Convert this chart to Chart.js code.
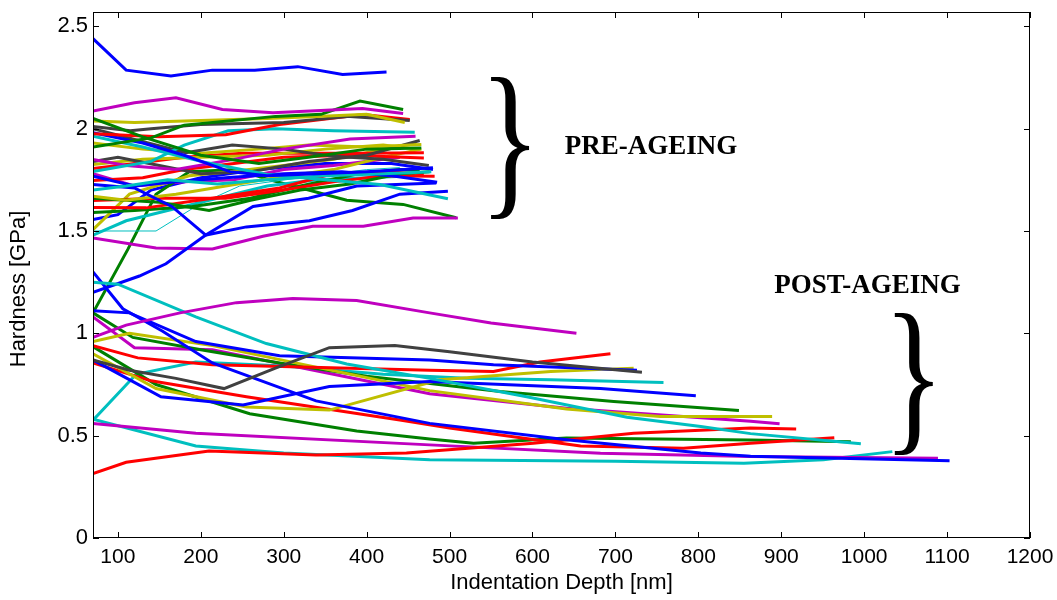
<!DOCTYPE html>
<html>
<head>
<meta charset="utf-8">
<script src="https://cdn.jsdelivr.net/npm/chart.js@4.4.1/dist/chart.umd.min.js"></script>
<style>
  html, body { margin: 0; padding: 0; background: #fff; }
  #wrap { width: 1057px; height: 600px; }
</style>
</head>
<body>
<div id="wrap"><canvas id="c" width="1057" height="600"></canvas></div>
<script>
// ---- tick values ----
const xTickValues = [100, 200, 300, 400, 500, 600, 700, 800, 900, 1000, 1100, 1200];
const yTickValues = [0, 0.5, 1, 1.5, 2, 2.5];

// ---- pre-ageing curves [depth nm, hardness GPa] ----
const preB1 = [[70,2.44],[110,2.286],[164,2.257],[214,2.286],[265,2.286],[317,2.303],[371,2.265],[424,2.277]];
const preM1 = [[70,2.086],[120,2.127],[170,2.151],[226,2.094],[287,2.078],[351,2.09],[395,2.099],[444,2.074]];
const preG1 = [[70,1.91],[140,1.955],[180,2.017],[290,2.06],[345,2.07],[392,2.135],[444,2.094]];
const preG2 = [[70,2.05],[130,1.96],[200,1.87],[270,1.83],[330,1.86],[400,1.9],[466,1.906]];
const preY1 = [[70,2.037],[120,2.03],[200,2.04],[280,2.05],[340,2.06],[400,2.07],[446,2.03]];
const preK1 = [[70,2.01],[115,1.99],[140,2.0],[200,2.02],[300,2.03],[380,2.06],[452,2.04]];
const preR1 = [[70,1.975],[150,1.96],[230,1.97],[295,2.02],[396,2.069],[452,2.045]];
const preB2 = [[70,1.98],[130,1.93],[180,1.87],[235,1.79],[280,1.77],[340,1.78],[400,1.79],[480,1.809]];
const preC1 = [[70,1.963],[130,1.91],[200,1.84],[280,1.776],[350,1.75],[416,1.727],[498,1.658]];
const preC2 = [[70,1.79],[140,1.84],[180,1.92],[233,1.99],[290,2.0],[360,1.99],[458,1.983]];
const preM2 = [[70,1.85],[110,1.82],[170,1.8],[240,1.85],[300,1.9],[380,1.95],[459,1.963]];
const preK2 = [[70,2.0],[182,1.882],[238,1.92],[300,1.9],[359,1.865],[420,1.85],[475,1.82]];
const preY2 = [[70,1.93],[130,1.9],[200,1.88],[270,1.9],[330,1.92],[400,1.91],[466,1.923]];
const preK3 = [[70,1.84],[100,1.86],[150,1.82],[200,1.78],[260,1.79],[330,1.84],[400,1.87],[464,1.942]];
const preY3 = [[70,1.825],[130,1.85],[200,1.86],[280,1.87],[350,1.9],[420,1.92],[460,1.9]];
const preR2 = [[70,1.805],[120,1.83],[180,1.86],[250,1.88],[320,1.88],[400,1.88],[469,1.882]];
const preC3 = [[70,1.70],[110,1.72],[160,1.75],[220,1.73],[280,1.75],[350,1.77],[420,1.78],[478,1.789]];
const preB3 = [[70,1.768],[120,1.72],[170,1.74],[230,1.76],[300,1.78],[370,1.79],[430,1.77],[485,1.738]];
const preR3 = [[70,1.747],[130,1.76],[180,1.8],[240,1.83],[300,1.86],[380,1.87],[469,1.857]];
const preB4 = [[70,1.727],[120,1.71],[165,1.62],[206,1.48],[255,1.52],[331,1.55],[383,1.6],[440,1.68],[498,1.694]];
const preY4 = [[70,1.67],[110,1.65],[170,1.68],[230,1.72],[290,1.76],[360,1.8],[420,1.86],[466,1.9]];
const preG3 = [[70,1.66],[150,1.64],[210,1.6],[260,1.65],[320,1.7],[380,1.73],[440,1.78],[476,1.79]];
const preR4 = [[70,1.649],[150,1.66],[230,1.66],[300,1.7],[360,1.74],[420,1.77],[482,1.768]];
const preR5 = [[70,1.615],[134,1.613],[214,1.66],[295,1.71],[359,1.78],[420,1.79],[469,1.78]];
const preG4 = [[70,1.59],[120,1.6],[190,1.62],[260,1.66],[320,1.72],[390,1.78],[440,1.8],[464,1.8]];
const preB5 = [[70,1.2],[126,1.28],[158,1.34],[206,1.48],[263,1.62],[330,1.66],[388,1.72],[484,1.735]];
const preY5 = [[70,1.507],[114,1.68],[186,1.77],[235,1.79],[300,1.82],[360,1.85],[420,1.9],[460,1.93]];
const preC4 = [[70,1.48],[110,1.55],[160,1.6],[220,1.66],[280,1.72],[340,1.75],[400,1.76],[458,1.77]];
const preC5 = [[70,1.5],[146,1.5],[198,1.63],[247,1.72],[320,1.76],[400,1.8],[440,1.81]];
const preM3 = [[70,1.466],[146,1.417],[214,1.412],[275,1.474],[335,1.523],[396,1.523],[456,1.564],[510,1.564]];
const preG5 = [[70,1.1],[112,1.41],[146,1.68],[186,1.79],[243,1.8],[283,1.75],[330,1.7],[376,1.65],[444,1.63],[508,1.565]];
const preM4 = [[70,1.78],[120,1.72],[180,1.74],[240,1.75],[300,1.8],[360,1.82],[440,1.86]];
const preB6 = [[70,1.556],[100,1.58],[140,1.7],[200,1.76],[270,1.8],[350,1.83],[430,1.83],[480,1.8]];

// ---- post-ageing curves ----
const postM1 = [[70,0.98],[110,1.04],[175,1.1],[243,1.15],[311,1.17],[388,1.16],[476,1.1],[550,1.05],[653,1.0]];
const postK1 = [[70,0.87],[114,0.82],[170,0.78],[228,0.73],[290,0.83],[355,0.93],[434,0.94],[500,0.91],[600,0.86],[732,0.81]];
const postC1 = [[70,1.25],[100,1.24],[194,1.08],[279,0.95],[376,0.85],[476,0.78],[593,0.69],[714,0.59],[803,0.545],[863,0.51],[996,0.46]];
const postB1 = [[70,1.3],[106,1.12],[154,1.01],[214,0.855],[339,0.67],[476,0.56],[641,0.48],[803,0.415],[863,0.4],[1103,0.378]];
const postB2 = [[70,1.11],[114,1.1],[194,0.96],[295,0.89],[476,0.87],[553,0.846],[726,0.82]];
const postB3 = [[70,0.87],[152,0.69],[251,0.65],[355,0.74],[476,0.765],[682,0.73],[797,0.695]];
const postR1 = [[70,0.94],[124,0.88],[214,0.846],[476,0.82],[553,0.814],[609,0.86],[694,0.9]];
const postY1 = [[70,0.9],[146,0.73],[255,0.64],[355,0.625],[488,0.773],[622,0.814],[722,0.83]];
const postY2 = [[70,0.96],[114,1.0],[214,0.94],[476,0.72],[641,0.63],[754,0.594],[889,0.594]];
const postG1 = [[70,1.1],[118,0.98],[200,0.92],[295,0.855],[400,0.79],[561,0.716],[698,0.667],[849,0.623]];
const postM2 = [[70,1.08],[120,0.93],[214,0.92],[476,0.705],[641,0.634],[863,0.57],[898,0.558]];
const postR2 = [[70,0.855],[140,0.768],[255,0.69],[440,0.577],[500,0.537],[658,0.45],[782,0.439],[863,0.463],[964,0.49]];
const postR3 = [[70,0.315],[110,0.37],[210,0.425],[339,0.405],[448,0.415],[601,0.463],[722,0.512],[863,0.537],[918,0.532]];
const postG2 = [[70,0.935],[146,0.75],[259,0.607],[388,0.523],[476,0.484],[529,0.463],[641,0.488],[863,0.479],[984,0.47]];
const postM3 = [[70,0.56],[194,0.512],[476,0.455],[682,0.414],[863,0.398],[1089,0.39]];
const postC2 = [[70,0.58],[194,0.45],[300,0.415],[476,0.382],[700,0.375],[855,0.365],[951,0.382],[1034,0.422]];
const postC3 = [[70,0.575],[122,0.8],[194,0.86],[300,0.84],[420,0.8],[520,0.78],[622,0.773],[758,0.76]];

// ---- annotation labels ----
const groupLabels = ['PRE-AGEING', 'POST-AGEING'];
const labelAnchors = [[743, 1.908], [1004, 1.233]];
const braceAnchors = [[573, 1.88], [1060, 0.728]];
const yTitle = 'Hardness [GPa]';

// ---- styling ----
const palette = { b:'#0000FF', g:'#008000', r:'#FF0000', c:'#00BFBF', m:'#BF00BF', y:'#BFBF00', k:'#404040' };
const lineSet = [
  [postM1,'m'],[postK1,'k'],[postC1,'c'],[postB1,'b'],[postB2,'b'],[postB3,'b'],[postR1,'r'],[postY1,'y'],
  [postY2,'y'],[postG1,'g'],[postM2,'m'],[postR2,'r'],[postR3,'r'],[postG2,'g'],[postM3,'m'],[postC2,'c'],[postC3,'c'],
  [preB1,'b'],[preM1,'m'],[preG1,'g'],[preG2,'g'],[preY1,'y'],[preK1,'k'],[preR1,'r'],[preB2,'b'],[preC1,'c'],
  [preC2,'c'],[preM2,'m'],[preK2,'k'],[preY2,'y'],[preK3,'k'],[preY3,'y'],[preR2,'r'],[preC3,'c'],[preB3,'b'],
  [preR3,'r'],[preB4,'b'],[preY4,'y'],[preG3,'g'],[preR4,'r'],[preR5,'r'],[preG4,'g'],[preB5,'b'],[preY5,'y'],
  [preC4,'c'],[preC5,'c',1],[preM3,'m'],[preG5,'g'],[preM4,'m'],[preB6,'b']
];

const datasets = lineSet.map(([pts, col, w]) => ({
  data: pts.map(p => ({ x: p[0], y: p[1] })),
  borderColor: palette[col],
  borderWidth: w || 3,
  pointRadius: 0,
  fill: false,
  tension: 0
}));

const framePlugin = {
  id: 'frame',
  afterDatasetsDraw(chart) {
    const { ctx, chartArea: a, scales: { x, y } } = chart;
    ctx.save();
    ctx.strokeStyle = '#000';
    ctx.lineWidth = 1;
    ctx.strokeRect(a.left + 0.5, a.top + 0.5, a.right - a.left - 1, a.bottom - a.top - 1);
    const L = 6;
    ctx.beginPath();
    xTickValues.forEach(v => {
      const px = Math.round(x.getPixelForValue(v)) + 0.5;
      ctx.moveTo(px, a.bottom); ctx.lineTo(px, a.bottom - L);
      ctx.moveTo(px, a.top); ctx.lineTo(px, a.top + L);
    });
    yTickValues.forEach(v => {
      const py = Math.round(y.getPixelForValue(v)) + 0.5;
      ctx.moveTo(a.left, py); ctx.lineTo(a.left + L, py);
      ctx.moveTo(a.right, py); ctx.lineTo(a.right - L, py);
    });
    ctx.stroke();

    // y axis title (MATLAB places it slightly below the axes centre)
    ctx.fillStyle = '#000';
    ctx.save();
    ctx.translate(19, (a.top + a.bottom) / 2 + 14);
    ctx.rotate(-Math.PI / 2);
    ctx.font = '22px "Liberation Sans", Arial, sans-serif';
    ctx.textAlign = 'center';
    ctx.textBaseline = 'middle';
    ctx.fillText(yTitle, 0, 0);
    ctx.restore();

    // annotations
    ctx.font = 'bold 27px "Liberation Serif", "Times New Roman", serif';
    ctx.textAlign = 'center';
    ctx.textBaseline = 'middle';
    groupLabels.forEach((t, i) => {
      ctx.fillText(t, x.getPixelForValue(labelAnchors[i][0]), y.getPixelForValue(labelAnchors[i][1]));
    });
    const size = 172;
    braceAnchors.forEach(([bx, by]) => {
      const cx = x.getPixelForValue(bx), cy = y.getPixelForValue(by);
      ctx.save();
      ctx.translate(cx, cy);
      ctx.scale(0.74, 1);
      ctx.font = size + 'px "Liberation Serif", "Times New Roman", serif';
      ctx.textAlign = 'center';
      ctx.textBaseline = 'alphabetic';
      ctx.fillText('}', 0, 0.2475 * size);
      ctx.restore();
    });
    ctx.restore();
  }
};

new Chart(document.getElementById('c'), {
  type: 'line',
  data: { datasets },
  plugins: [framePlugin],
  options: {
    responsive: false,
    animation: false,
    events: [],
    layout: { padding: { top: 12, right: 27, left: 0, bottom: 0 } },
    plugins: { legend: { display: false }, tooltip: { enabled: false } },
    scales: {
      x: {
        type: 'linear', min: 70, max: 1200,
        afterBuildTicks: s => { s.ticks = xTickValues.map(v => ({ value: v })); },
        afterFit: s => { s.height = 62; s.paddingLeft = 0; s.paddingRight = 0; },
        grid: { display: false, drawTicks: false },
        border: { display: false },
        ticks: { color: '#000', padding: 7, maxRotation: 0, autoSkip: false,
                 font: { family: '"Liberation Sans Narrow", "Liberation Sans", Arial, sans-serif', size: 21 },
                 callback: v => String(v) },
        title: { display: true, text: 'Indentation Depth [nm]', color: '#000',
                 font: { family: '"Liberation Sans", Arial, sans-serif', size: 22 }, padding: { top: 0, bottom: 4 } }
      },
      y: {
        type: 'linear', min: 0, max: 2.57,
        afterBuildTicks: s => { s.ticks = yTickValues.map(v => ({ value: v })); },
        afterFit: s => { s.width = 93; s.paddingTop = 0; s.paddingBottom = 0; },
        grid: { display: false, drawTicks: false },
        border: { display: false },
        ticks: { color: '#000', padding: 5, autoSkip: false,
                 font: { family: '"Liberation Sans", Arial, sans-serif', size: 22 },
                 callback: v => String(v) },
        title: { display: false }
      }
    }
  }
});
</script>
</body>
</html>
